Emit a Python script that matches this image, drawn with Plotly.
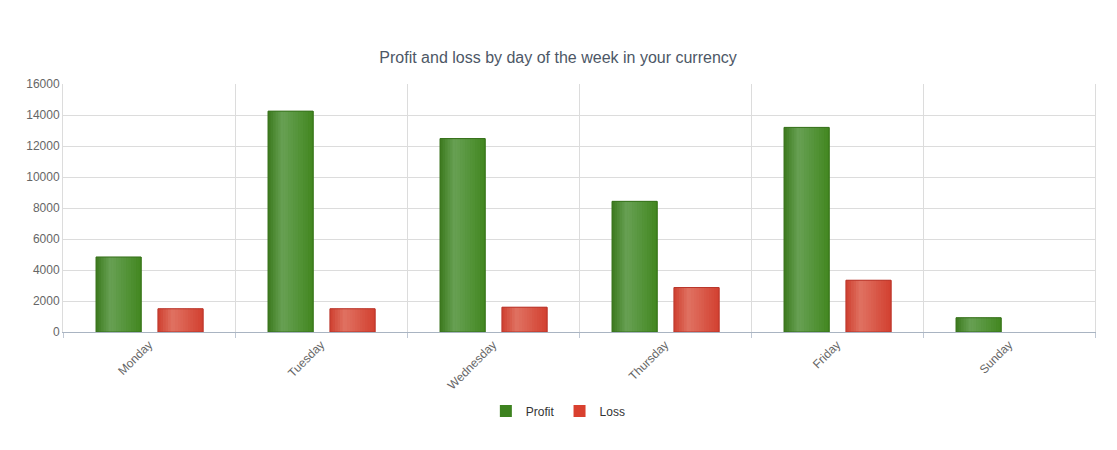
import plotly.graph_objects as go

days = ["Monday", "Tuesday", "Wednesday", "Thursday", "Friday", "Sunday"]
profit = [4840, 14250, 12480, 8430, 13200, 920]
loss = [1500, 1500, 1600, 2870, 3340, None]

# bar geometry in category units (one category = 1)
bar_w = 0.262
profit_off = -0.308
loss_off = 0.052
strips = 18


def mix(c1, c2, t):
    return "rgb(%d,%d,%d)" % tuple(round(a + (b - a) * t) for a, b in zip(c1, c2))


def shade(dark, light, edge, pos):
    # cylinder look: dark edge, light band near 1/3, back to dark
    if pos < 0.32:
        return mix(dark, light, pos / 0.32)
    return mix(light, edge, (pos - 0.32) / 0.68)


def add_series(fig, name, values, offset, base, dark, light, edge, line):
    fig.add_trace(go.Bar(x=days, y=values, name=name, offset=offset, width=bar_w,
                         marker=dict(color=base, line=dict(width=0)),
                         legendgroup=name, showlegend=True))
    for i in range(strips):
        pos = (i + 0.5) / strips
        fig.add_trace(go.Bar(x=days, y=values, offset=offset + i * bar_w / strips,
                             width=bar_w / strips * 1.2,
                             marker=dict(color=shade(dark, light, edge, pos), line=dict(width=0)),
                             legendgroup=name, showlegend=False, hoverinfo="skip"))
    fig.add_trace(go.Bar(x=days, y=values, offset=offset, width=bar_w, name=name,
                         marker=dict(color="rgba(0,0,0,0)", line=dict(color=line, width=1)),
                         legendgroup=name, showlegend=False))


fig = go.Figure()
add_series(fig, "Profit", profit, profit_off, "#3d821f",
           (60, 122, 30), (104, 161, 84), (66, 135, 32), "#36701a")
add_series(fig, "Loss", loss, loss_off, "#d9402f",
           (206, 64, 48), (224, 114, 98), (210, 64, 48), "#b8352a")

# the page body has an 8px margin, so the figure is shifted by 8px
fig.update_layout(
    width=1109, height=442,
    barmode="overlay",
    plot_bgcolor="white", paper_bgcolor="white",
    margin=dict(l=55, r=22, t=76, b=118, autoexpand=False),
    font=dict(family="Liberation Sans, Arial, sans-serif", color="#666666", size=12),
    title=dict(text="Profit and loss by day of the week in your currency",
               x=0.496, xref="container", xanchor="center", y=1 - 49 / 442, yanchor="middle",
               font=dict(size=16, color="#4d5766")),
    legend=dict(orientation="h", x=0.48, xanchor="center",
                y=-0.3185, yanchor="middle",
                font=dict(size=12, color="#333333"), itemwidth=30, traceorder="normal"),
    showlegend=True,
)
fig.update_xaxes(tickangle=-45, tickson="boundaries", ticks="outside", ticklen=5,
                 tickcolor="#c0c8d4", showgrid=True, gridcolor="#dcdcdc",
                 showline=True, linecolor="#a9b4c2", linewidth=1,
                 range=[-0.5, 5.5], tickfont=dict(size=12, color="#666666"))
fig.update_yaxes(range=[0, 16000], dtick=2000, showgrid=True, gridcolor="#dcdcdc",
                 zeroline=False, showline=True, mirror=True, linecolor="#dcdcdc",
                 tickformat="d", tickfont=dict(size=12, color="#666666"))

fig.write_html("out.html")
